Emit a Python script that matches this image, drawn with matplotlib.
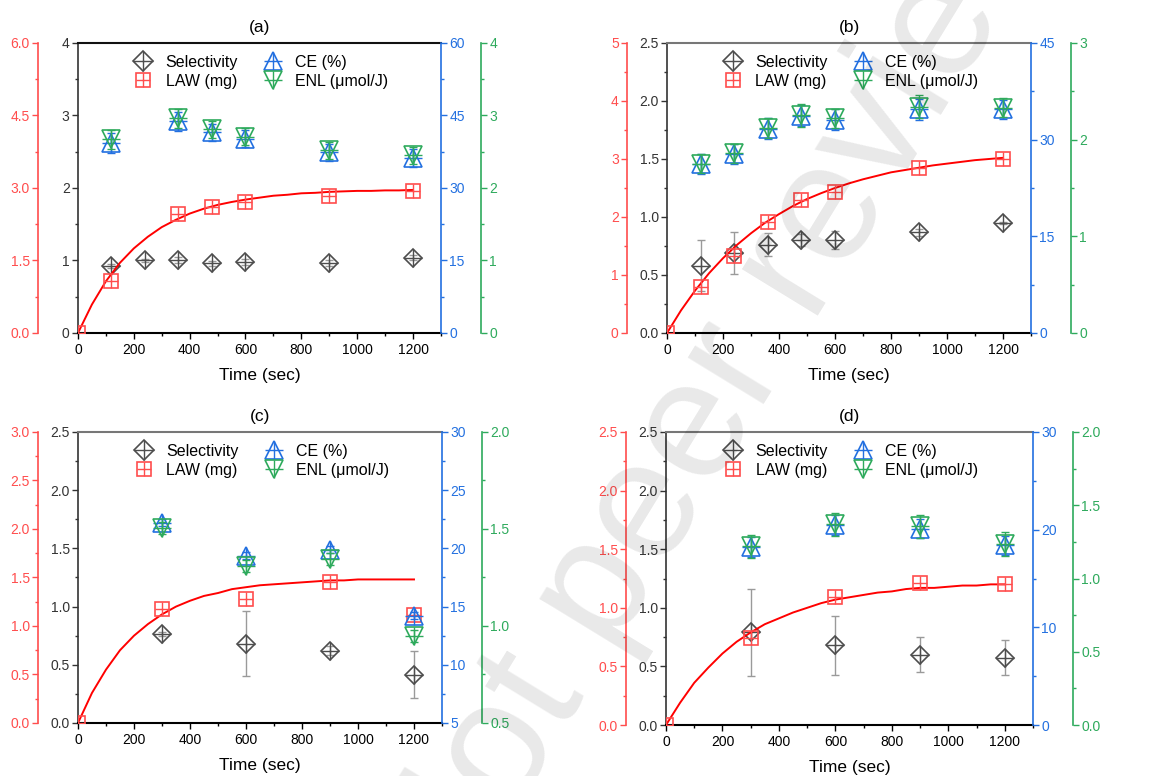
#!/usr/bin/env python3
""" Selectivity / LAW / CE / ENL vs time, four panels with four y axes each """

import matplotlib.pyplot as plt
from matplotlib.lines import Line2D
from matplotlib.ticker import MultipleLocator, FormatStrFormatter

plt.rcParams['font.family'] = ['Liberation Sans', 'DejaVu Sans']

# ---------------- data ----------------
fit_t = list(range(0, 1201, 50))

# (a)
sel_t_a = [120, 240, 360, 480, 600, 900, 1200]
sel_a = [0.92, 1.00, 1.01, 0.96, 0.98, 0.97, 1.04]
sel_err_a = [0.03, 0.02, 0.04, 0.03, 0.04, 0.04, 0.03]
law_t_a = [0, 120, 360, 480, 600, 900, 1200]
law_a = [0.0, 1.08, 2.46, 2.60, 2.72, 2.83, 2.94]
fit_a = [0.0, 0.59, 1.07, 1.45, 1.75, 1.99, 2.19, 2.34, 2.47, 2.57, 2.65, 2.71,
         2.76, 2.80, 2.84, 2.86, 2.89, 2.90, 2.92, 2.93, 2.94, 2.94, 2.95, 2.95, 2.96]
ce_t_a = [120, 360, 480, 600, 900, 1200]
ce_a = [39.3, 43.8, 41.5, 40.2, 37.4, 36.2]
ce_err_a = [2.0, 2.0, 1.8, 1.8, 1.8, 1.8]
enl_a = [2.67, 2.96, 2.81, 2.71, 2.52, 2.45]
enl_err_a = [0.13, 0.13, 0.12, 0.12, 0.12, 0.12]

# (b)
sel_t_b = [120, 240, 360, 480, 600, 900, 1200]
sel_b = [0.58, 0.69, 0.76, 0.80, 0.80, 0.87, 0.95]
sel_err_b = [0.22, 0.18, 0.10, 0.05, 0.08, 0.03, 0.01]
law_t_b = [0, 120, 240, 360, 480, 600, 900, 1200]
law_b = [0.0, 0.79, 1.33, 1.92, 2.29, 2.43, 2.84, 3.00]
fit_b = [0.0, 0.39, 0.73, 1.03, 1.29, 1.52, 1.72, 1.90, 2.05, 2.19, 2.31, 2.41,
         2.50, 2.58, 2.65, 2.71, 2.77, 2.81, 2.85, 2.89, 2.92, 2.95, 2.98, 3.00, 3.02]
ce_t_b = [120, 240, 360, 480, 600, 900, 1200]
ce_b = [26.2, 27.8, 31.7, 33.7, 33.1, 34.7, 34.7]
ce_err_b = [1.6, 1.6, 1.6, 1.6, 1.6, 1.6, 1.5]
enl_b = [1.75, 1.86, 2.12, 2.25, 2.22, 2.34, 2.33]
enl_err_b = [0.1, 0.1, 0.1, 0.12, 0.1, 0.12, 0.1]

# (c)
sel_t_c = [300, 600, 900, 1200]
sel_c = [0.765, 0.68, 0.62, 0.415]
sel_err_c = [0.02, 0.28, 0.04, 0.20]
law_t_c = [0, 300, 600, 900, 1200]
law_c = [0.0, 1.18, 1.28, 1.45, 1.11]
fit_c = [0.0, 0.31, 0.55, 0.75, 0.90, 1.02, 1.12, 1.20, 1.26, 1.31, 1.34, 1.38,
         1.40, 1.42, 1.43, 1.44, 1.45, 1.46, 1.47, 1.47, 1.48, 1.48, 1.48, 1.48, 1.48]
ce_t_c = [300, 600, 900, 1200]
ce_c = [22.2, 19.35, 19.9, 14.2]
ce_err_c = [0.3, 0.3, 0.3, 0.3]
enl_c = [1.505, 1.31, 1.345, 0.95]
enl_err_c = [0.03, 0.03, 0.03, 0.03]

# (d)
sel_t_d = [300, 600, 900, 1200]
sel_d = [0.79, 0.68, 0.60, 0.575]
sel_err_d = [0.37, 0.25, 0.15, 0.15]
law_t_d = [0, 300, 600, 900, 1200]
law_d = [0.0, 0.746, 1.09, 1.215, 1.20]
fit_d = [0.0, 0.19, 0.36, 0.49, 0.61, 0.71, 0.79, 0.86, 0.91, 0.96, 1.00, 1.04,
         1.07, 1.09, 1.11, 1.13, 1.14, 1.16, 1.17, 1.17, 1.18, 1.19, 1.19, 1.20, 1.20]
ce_t_d = [300, 600, 900, 1200]
ce_d = [18.2, 20.5, 20.1, 18.4]
ce_err_d = [1.0, 1.0, 1.0, 1.0]
enl_d = [1.22, 1.37, 1.355, 1.237]
enl_err_d = [0.08, 0.08, 0.08, 0.08]

labels = ["Selectivity", "LAW (mg)", "CE (%)", "ENL (\u03bcmol/J)"]

# ---------------- style ----------------
C_SEL = '#4d4d4d'
C_SEL_ERR = '#9a9a9a'
C_LAW = '#ff4d4d'
C_FIT = '#ff0000'
C_CE = '#2370e0'
C_ENL = '#2eaa5c'
C_AX_BLACK = '#333333'
OFF = 40 * 72 / 100.0   # 40 px offset in points
MS_TRI = 13.5


def style_y(axis, side, color, lim, major, minor, fmt):
    axis.set_ylim(*lim)
    axis.yaxis.set_major_locator(MultipleLocator(major))
    axis.yaxis.set_minor_locator(MultipleLocator(minor))
    axis.yaxis.set_major_formatter(FormatStrFormatter(fmt))
    if side == 'left':
        axis.yaxis.tick_left()
    else:
        axis.yaxis.tick_right()
    axis.tick_params(axis='y', which='major', direction='out', length=4,
                     width=1, color=color, labelcolor=color, labelsize=10, pad=2)
    axis.tick_params(axis='y', which='minor', direction='out', length=2.5,
                     width=1, color=color)


def marks(axis, x, y, err, marker, ms, plus_ms, color, ecolor):
    axis.errorbar(x, y, yerr=err, fmt='none', ecolor=ecolor, elinewidth=1,
                  capsize=3, capthick=1)
    axis.plot(x, y, ls='none', marker=marker, ms=ms, mfc='none', mec=color, mew=1.2)
    axis.plot(x, y, ls='none', marker='+', ms=plus_ms, mec=color, mew=1.0)


def panel(rect, title, top_color, sel_t, sel, sel_err, law_t, law, fit,
          ce_t, ce, ce_err, enl, enl_err, ylims):
    ax = fig.add_axes(rect)
    red = ax.twinx()
    blue = ax.twinx()
    green = ax.twinx()

    (sel_lim, sel_maj, sel_min, sel_fmt), (law_lim, law_maj, law_min, law_fmt), \
        (ce_lim, ce_maj, ce_min, ce_fmt), (enl_lim, enl_maj, enl_min, enl_fmt) = ylims

    # main (selectivity) axis
    ax.set_xlim(0, 1300)
    ax.xaxis.set_major_locator(MultipleLocator(200))
    ax.xaxis.set_minor_locator(MultipleLocator(100))
    ax.tick_params(axis='x', which='major', direction='out', length=4, width=1,
                   labelsize=10, pad=3)
    ax.tick_params(axis='x', which='minor', direction='out', length=2.5, width=1)
    ax.tick_params(axis='x', top=False, which='both')
    style_y(ax, 'left', C_AX_BLACK, sel_lim, sel_maj, sel_min, sel_fmt)
    ax.spines['right'].set_visible(False)
    ax.spines['left'].set_color(C_AX_BLACK)
    ax.spines['left'].set_linewidth(1.2)
    ax.spines['bottom'].set_linewidth(1.5)
    ax.spines['top'].set_color(top_color)
    ax.spines['top'].set_linewidth(1.5)
    ax.set_xlabel("Time (sec)", fontsize=12.5, labelpad=8)
    ax.set_title(title, fontsize=12.5, pad=8)

    for tw in (red, blue, green):
        for s in tw.spines.values():
            s.set_visible(False)

    # red LAW axis, offset to the left
    red.spines['left'].set_visible(True)
    red.spines['left'].set_position(('outward', OFF))
    red.spines['left'].set_color(C_LAW)
    red.spines['left'].set_linewidth(1.2)
    style_y(red, 'left', C_LAW, law_lim, law_maj, law_min, law_fmt)
    red.yaxis.set_label_position('left')

    # blue CE axis on the right edge
    blue.spines['right'].set_visible(True)
    blue.spines['right'].set_color(C_CE)
    blue.spines['right'].set_linewidth(1.2)
    style_y(blue, 'right', C_CE, ce_lim, ce_maj, ce_min, ce_fmt)

    # green ENL axis, offset to the right
    green.spines['right'].set_visible(True)
    green.spines['right'].set_position(('outward', OFF))
    green.spines['right'].set_color(C_ENL)
    green.spines['right'].set_linewidth(1.2)
    style_y(green, 'right', C_ENL, enl_lim, enl_maj, enl_min, enl_fmt)

    # data
    marks(ax, sel_t, sel, sel_err, 'D', 9.5, 13.5, C_SEL, C_SEL_ERR)
    red.plot(fit_t, fit, color=C_FIT, lw=1.4)
    marks(red, law_t, law, None, 's', 9.5, 9.5, C_LAW, C_LAW)
    marks(blue, ce_t, ce, ce_err, '^', MS_TRI, MS_TRI, C_CE, C_CE)
    marks(green, ce_t, enl, enl_err, 'v', MS_TRI, MS_TRI, C_ENL, C_ENL)

    # legend
    def h(marker, ms, pms, c):
        return (Line2D([], [], ls='none', marker=marker, ms=ms, mfc='none', mec=c, mew=1.2),
                Line2D([], [], ls='none', marker='+', ms=pms, mec=c, mew=1.0))
    handles = [h('D', 10.5, 15, C_SEL), h('s', 9.5, 9.5, C_LAW),
               h('^', MS_TRI, MS_TRI, C_CE), h('v', MS_TRI, MS_TRI, C_ENL)]
    green.legend(handles, labels, ncol=2, loc='upper center', bbox_to_anchor=(0.5, 1.0),
                 frameon=False, fontsize=11.5, handletextpad=0.6, columnspacing=1.4,
                 labelspacing=0.25, handlelength=1.6, borderpad=0.25)
    return ax


fig = plt.figure(figsize=(11.69, 7.76), dpi=100)

panel([0.0667, 0.5709, 0.3105, 0.3737], '(a)', '#111111',
      sel_t_a, sel_a, sel_err_a, law_t_a, law_a, fit_a,
      ce_t_a, ce_a, ce_err_a, enl_a, enl_err_a,
      [((0, 4), 1, 0.5, '%d'), ((0, 6), 1.5, 0.75, '%.1f'),
       ((0, 60), 15, 7.5, '%d'), ((0, 4), 1, 0.5, '%d')])

panel([0.5706, 0.5709, 0.3114, 0.3737], '(b)', '#777777',
      sel_t_b, sel_b, sel_err_b, law_t_b, law_b, fit_b,
      ce_t_b, ce_b, ce_err_b, enl_b, enl_err_b,
      [((0, 2.5), 0.5, 0.25, '%.1f'), ((0, 5), 1, 0.5, '%d'),
       ((0, 45), 15, 7.5, '%d'), ((0, 3), 1, 0.5, '%d')])

panel([0.0667, 0.0683, 0.3114, 0.3750], '(c)', '#777777',
      sel_t_c, sel_c, sel_err_c, law_t_c, law_c, fit_c,
      ce_t_c, ce_c, ce_err_c, enl_c, enl_err_c,
      [((0, 2.5), 0.5, 0.25, '%.1f'), ((0, 3), 0.5, 0.25, '%.1f'),
       ((5, 30), 5, 2.5, '%d'), ((0.5, 2.0), 0.5, 0.25, '%.1f')])

panel([0.5697, 0.0657, 0.3140, 0.3776], '(d)', '#777777',
      sel_t_d, sel_d, sel_err_d, law_t_d, law_d, fit_d,
      ce_t_d, ce_d, ce_err_d, enl_d, enl_err_d,
      [((0, 2.5), 0.5, 0.25, '%.1f'), ((0, 2.5), 0.5, 0.25, '%.1f'),
       ((0, 30), 10, 5, '%d'), ((0, 2.0), 0.5, 0.25, '%.1f')])

# watermark
fig.text(0.659, 0.60, "Not peer reviewed", rotation=58.5, fontsize=122,
         color='black', alpha=0.09, ha='center', va='center', zorder=100)

fig.savefig("out.png", dpi=100)
